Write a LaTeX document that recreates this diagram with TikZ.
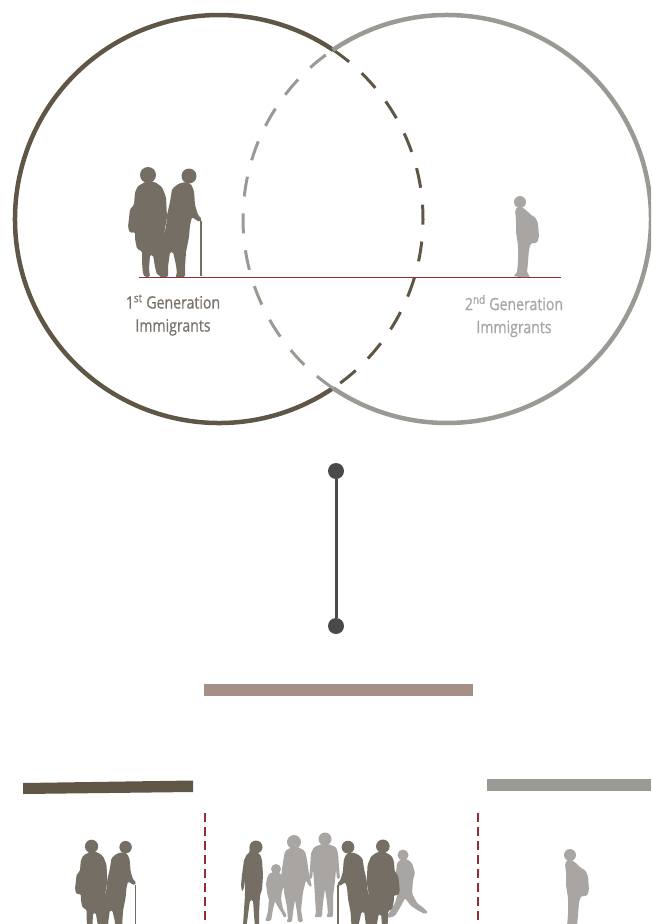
\documentclass[tikz,border=0pt]{standalone}
\usepackage{fontspec}
\setmainfont{Open Sans}
\newfontfamily\genfont[FakeStretch=0.83, FakeBold=0.7]{Open Sans}
\usetikzlibrary{positioning}

\definecolor{firstgen}{HTML}{5F5646}
\definecolor{secondgen}{HTML}{9A9A94}
\definecolor{eldergray}{HTML}{756E65}
\definecolor{youthgray}{HTML}{A8A5A2}
\definecolor{firsttext}{HTML}{7A726B}
\definecolor{secondtext}{HTML}{A8A6A3}
\definecolor{linkgray}{HTML}{4A4A4C}
\definecolor{mixbar}{HTML}{A68F86}
\definecolor{groundred}{HTML}{962B31}

\tikzset{
    % Generation circles - solid outer part
    gen circle/.style={line width=4.5pt},
    % Overlapping part of a circle - dashed
    gen overlap/.style={line width=3pt, dash pattern=on 20pt off 17pt},
    % Generation captions
    gen label/.style={font=\genfont\fontsize{17}{23}\selectfont, align=center},
    % Vertical link between the two parts
    link dot/.style={circle, fill=linkgray, inner sep=0pt, minimum size=16pt},
    link line/.style={draw=linkgray, line width=3pt},
    % Red separators and ground line
    split line/.style={draw=groundred, line width=1.2pt, dash pattern=on 9pt off 5pt},
    ground line/.style={draw=groundred, line width=0.9pt},
    % Silhouette outlines
    body/.style={rounded corners=1.5pt},
    % Elderly couple (woman left, man with cane right)
    elder couple/.pic={
        % woman
        \fill (-21,-102) circle[radius=8];
        \fill[body] (-22,-96) -- (-31,-91) -- (-34,-85) -- (-35,-72) -- (-39,-68)
            -- (-41,-50) -- (-39,-44) -- (-34,-45) -- (-34,-38) -- (-32,-28)
            -- (-27,-26) -- (-27,-15) -- (-26,-3) -- (-24,0) -- (-19,0) -- (-20,-8)
            -- (-19,-22) -- (-16,-22) -- (-14,-10) -- (-12,-2) -- (-7,-2) -- (-8,-10)
            -- (-8,-25) -- (-6,-35) -- (-4,-48) -- (-2,-60) -- (-3,-80) -- (-7,-90)
            -- (-14,-95) -- cycle;
        % man
        \fill (20,-101) circle[radius=7.5];
        \fill[body] (16,-95) -- (9,-93) -- (3,-88) -- (1,-75) -- (-2,-62) -- (-3,-50)
            -- (-6,-40) -- (-8,-30) -- (-9,-10) -- (-10,0) -- (-1,0) -- (-1,-10)
            -- (1,-25) -- (4,-25) -- (7,-12) -- (8,-3) -- (6,0) -- (16,0) -- (16,-10)
            -- (17,-25) -- (20,-40) -- (21,-52) -- (23,-60) -- (27,-57) -- (31,-55)
            -- (33,-58) -- (29,-62) -- (26,-72) -- (25,-86) -- (22,-93) -- cycle;
        \draw[line width=1.5pt] (32,-56) -- (32,-1);
    },
    % Young man with a backpack
    backpacker/.pic={
        \fill (-3,-75) circle[radius=6];
        \fill[body] (-6,-70) -- (-1,-70) -- (4,-66) -- (8,-62) -- (12,-60) -- (15,-54)
            -- (16,-40) -- (14,-34) -- (8,-34) -- (6,-28) -- (5,-15) -- (4,-4)
            -- (7,-1) -- (6,0) -- (-3,0) -- (-10,-1) -- (-6,-4) -- (-5,-15)
            -- (-5,-32) -- (-7,-45) -- (-7,-58) -- (-8,-66) -- cycle;
    },
    % Girl with long hair
    girl/.pic={
        \fill (2,-83) circle[radius=6.5];
        \fill[body] (-4,-86) -- (-5,-72) -- (2,-76) -- cycle;
        \fill[body] (-2,-79) -- (-7,-76) -- (-10,-70) -- (-12,-55) -- (-13,-45)
            -- (-12,-38) -- (-10,-42) -- (-9,-50) -- (-9,-35) -- (-10,-20)
            -- (-11,-5) -- (-13,0) -- (-8,0) -- (-6,-15) -- (-4,-30) -- (-1,-30)
            -- (0,-15) -- (1,-3) -- (0,0) -- (5,0) -- (5,-15) -- (6,-35) -- (8,-40)
            -- (9,-55) -- (8,-70) -- (6,-76) -- cycle;
    },
    % Small child
    child/.pic={
        \fill (1,-52) circle[radius=5];
        \fill[body] (-3,-49) -- (-7,-46) -- (-9,-38) -- (-8,-28) -- (-6,-22)
            -- (-7,-10) -- (-9,-2) -- (-10,0) -- (-4,0) -- (-2,-12) -- (0,-20)
            -- (3,-14) -- (7,-8) -- (9,-3) -- (12,-5) -- (8,-12) -- (6,-22)
            -- (7,-30) -- (10,-36) -- (13,-40) -- (11,-43) -- (7,-40) -- (7,-46)
            -- (3,-49) -- cycle;
    },
    % Woman in a dress
    woman/.pic={
        \fill (-1,-80) circle[radius=7];
        \fill[body] (-3,-75) -- (-10,-71) -- (-12,-60) -- (-14,-45) -- (-17,-35)
            -- (-15,-33) -- (-11,-40) -- (-11,-30) -- (-8,-15) -- (-7,-2) -- (-9,0)
            -- (-3,0) -- (-2,-10) -- (0,-22) -- (2,-10) -- (3,0) -- (8,0) -- (6,-12)
            -- (8,-30) -- (11,-42) -- (14,-36) -- (17,-35) -- (14,-48) -- (12,-62)
            -- (10,-71) -- (3,-75) -- cycle;
    },
    % Man standing
    man/.pic={
        \fill (0,-78) circle[radius=6.5];
        \fill[body] (-3,-73) -- (-11,-70) -- (-14,-64) -- (-15,-48) -- (-16,-38)
            -- (-13,-38) -- (-12,-48) -- (-11,-36) -- (-10,-20) -- (-9,-3) -- (-11,0)
            -- (-3,0) -- (-2,-15) -- (0,-28) -- (2,-15) -- (3,-3) -- (1,0) -- (8,0)
            -- (8,-20) -- (10,-36) -- (11,-48) -- (12,-38) -- (15,-38) -- (14,-50)
            -- (13,-64) -- (11,-70) -- (3,-73) -- cycle;
    },
    % Teenager walking
    walker/.pic={
        \fill (-2,-63) circle[radius=5.5];
        \fill[body] (-4,-59) -- (-8,-55) -- (-9,-45) -- (-10,-35) -- (-12,-30)
            -- (-9,-28) -- (-7,-34) -- (-7,-25) -- (-10,-15) -- (-16,-5) -- (-19,-2)
            -- (-17,0) -- (-10,-2) -- (-4,-12) -- (0,-20) -- (6,-12) -- (14,-7)
            -- (20,-4) -- (23,-5) -- (20,-9) -- (12,-15) -- (7,-25) -- (8,-38)
            -- (10,-45) -- (7,-55) -- (2,-59) -- cycle;
    }
}

\begin{document}
\begin{tikzpicture}[x=1pt, y=-1pt]
    \useasboundingbox (0,0) rectangle (651,924);
    \clip (0,0) rectangle (651,924);

    % --- Generation circles ---
    \coordinate (first) at (219,219);
    \coordinate (second) at (447,219);

    \draw[gen circle, firstgen] ([shift={(56:204)}]first)
        arc[start angle=56, end angle=304, radius=204];
    \draw[gen overlap, firstgen] ([shift={(-56:204)}]first)
        arc[start angle=-56, end angle=56, radius=204];
    \draw[gen circle, secondgen] ([shift={(-124:204)}]second)
        arc[start angle=-124, end angle=124, radius=204];
    \draw[gen overlap, secondgen] ([shift={(124:204)}]second)
        arc[start angle=124, end angle=236, radius=204];

    % --- People on the ground line ---
    \coordinate (groundL) at (139,277);
    \coordinate (groundR) at (561,277);
    \draw[ground line] (groundL) -- (groundR);

    \pic[eldergray] at (169,277) {elder couple};
    \pic[youthgray] at (523,277) {backpacker};

    \node[gen label, text=firsttext] (firstlabel) at (173,315)
        {1\textsuperscript{st} Generation\\Immigrants};
    \node[gen label, text=secondtext] (secondlabel) at (514,316)
        {2\textsuperscript{nd} Generation\\Immigrants};

    % --- Link ---
    \node[link dot] (linktop) at (336,471) {};
    \node[link dot] (linkbottom) at (336,626) {};
    \draw[link line] (linktop) -- (linkbottom);

    % --- Bars ---
    \fill[mixbar] (204,684) rectangle (473,696);
    \fill[firstgen] (23,783) -- (193,780.5) -- (193,792) -- (23,794) -- cycle;
    \fill[secondgen] (487,779) rectangle (651,791);

    % --- Separators ---
    \coordinate (splitA top) at (205,813);
    \coordinate (splitA bottom) at (205,924);
    \coordinate (splitB top) at (478,813);
    \coordinate (splitB bottom) at (478,924);
    \draw[split line] (splitA top) -- (splitA bottom);
    \draw[split line] (splitB top) -- (splitB bottom);

    % --- Bottom row ---
    \pic[eldergray, scale=0.83] at (109,931) {elder couple};

    % mixed group: light figures behind, dark in front
    \pic[youthgray] at (275,921) {child};
    \pic[youthgray] at (295,922) {woman};
    \pic[youthgray] at (325,917) {man};
    \pic[youthgray] at (405,918) {walker};
    \pic[eldergray] at (254,930) {girl};
    \pic[eldergray, xscale=-0.85, yscale=0.85] at (365,933) {elder couple};

    \pic[youthgray] at (573,930) {backpacker};
\end{tikzpicture}
\end{document}
